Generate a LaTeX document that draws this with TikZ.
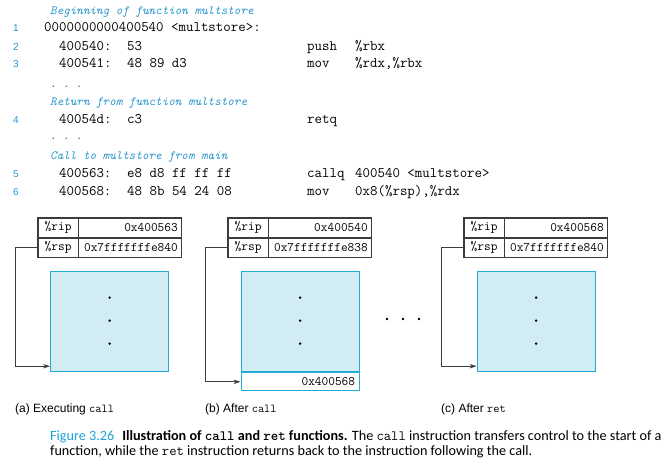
\documentclass[tikz,border=0pt]{standalone}
\usepackage{fontspec}
\setmainfont{Liberation Sans}
\setsansfont{Liberation Sans}
\newfontfamily\capfont{Carlito}
\usetikzlibrary{arrows.meta}
\definecolor{cmtblue}{RGB}{40,150,205}
\definecolor{boxfill}{RGB}{210,236,244}
\definecolor{boxline}{RGB}{35,170,215}
\definecolor{figblue}{RGB}{30,160,220}
\definecolor{linegray}{RGB}{60,60,60}
\tikzset{
  codetxt/.style={anchor=base west, inner sep=0pt, font=\fontsize{14.5}{16}\ttfamily},
  cmttxt/.style={anchor=base west, inner sep=0pt, text=cmtblue, font=\fontsize{12.5}{14}\ttfamily\itshape},
  dotstxt/.style={anchor=base west, inner sep=0pt, text=linegray, font=\fontsize{12.5}{14}\ttfamily},
  lnum/.style={anchor=base, inner sep=0pt, text=cmtblue, font=\fontsize{10}{12}\sffamily},
  regname/.style={draw=linegray, line width=0.7pt, minimum width=39.5pt, minimum height=19pt, inner sep=0pt, font=\fontsize{13}{14}\ttfamily},
  regval/.style={draw=linegray, line width=0.7pt, minimum width=102.5pt, text width=96pt, align=right, minimum height=19pt, inner xsep=3pt, inner ysep=0pt, font=\fontsize{13}{14}\ttfamily},
  regframe/.style={draw=linegray, line width=1.4pt},
  stackbox/.style={draw=boxline, fill=boxfill, line width=1.2pt, minimum width=118pt, minimum height=100pt, inner sep=0pt},
  retcell/.style={draw=boxline, fill=white, line width=1.2pt, minimum width=118pt, minimum height=18pt, text width=110pt, align=right, inner xsep=4pt, inner ysep=0pt, font=\fontsize{13}{14}\ttfamily},
  sdot/.style={circle, fill=black, inner sep=0pt, minimum size=2.6pt},
  edot/.style={circle, fill=black, inner sep=0pt, minimum size=2.8pt},
  ptr/.style={draw=linegray, line width=0.8pt, -{Stealth[length=7pt,width=4.5pt]}},
  plabel/.style={anchor=base west, inner sep=0pt, font=\fontsize{12}{14}\sffamily},
  captxt/.style={anchor=base west, inner sep=0pt, font=\fontsize{14.2}{16}\capfont},
}
\begin{document}
\begin{tikzpicture}[x=1pt,y=-1pt]
\useasboundingbox (0,0) rectangle (671,464);
% ---------- code listing ----------
\node[cmttxt] (c1) at (50,14) {Beginning of function multstore};
\node[lnum] (n1) at (16,31.5) {1};
\node[codetxt] (l1) at (44,31.5) {0000000000400540 <multstore>:};
\node[lnum] (n2) at (16,50.5) {2};
\node[codetxt] (l2a) at (59,50.5) {400540:};
\node[codetxt] (l2b) at (127,50.5) {53};
\node[codetxt] (l2c) at (307,50.5) {push};
\node[codetxt] (l2d) at (355,50.5) {\%rbx};
\node[lnum] (n3) at (16,67.5) {3};
\node[codetxt] (l3a) at (59,67.5) {400541:};
\node[codetxt] (l3b) at (127,67.5) {48 89 d3};
\node[codetxt] (l3c) at (307,67.5) {mov};
\node[codetxt] (l3d) at (355,67.5) {\%rdx,\%rbx};
\node[dotstxt] (d1) at (50,87) {.\ .\ .};
\node[cmttxt] (c2) at (50,105) {Return from function multstore};
\node[lnum] (n4) at (16,123.5) {4};
\node[codetxt] (l4a) at (59,123.5) {40054d:};
\node[codetxt] (l4b) at (127,123.5) {c3};
\node[codetxt] (l4c) at (307,123.5) {retq};
\node[dotstxt] (d2) at (50,139) {.\ .\ .};
\node[cmttxt] (c3) at (50,159) {Call to multstore from main};
\node[lnum] (n5) at (16,177.5) {5};
\node[codetxt] (l5a) at (59,177.5) {400563:};
\node[codetxt] (l5b) at (127,177.5) {e8 d8 ff ff ff};
\node[codetxt] (l5c) at (307,177.5) {callq};
\node[codetxt] (l5d) at (355,177.5) {400540 <multstore>};
\node[lnum] (n6) at (16,195.5) {6};
\node[codetxt] (l6a) at (59,195.5) {400568:};
\node[codetxt] (l6b) at (127,195.5) {48 8b 54 24 08};
\node[codetxt] (l6c) at (307,195.5) {mov};
\node[codetxt] (l6d) at (355,195.5) {0x8(\%rsp),\%rdx};
% ---------- panel (a) ----------
\node[regname, anchor=north west] (ripA) at (38,218) {\%rip};
\node[regval, anchor=north west] (ripvA) at (ripA.north east) {0x400563};
\node[regname, anchor=north] (rspA) at (ripA.south) {\%rsp};
\node[regval, anchor=north west] (rspvA) at (rspA.north east) {0x7fffffffe840};
\draw[regframe] (ripA.north west) rectangle (rspvA.south east);
\node[stackbox, anchor=north west] (boxA) at (50,271) {};
\node[sdot] (a1) at ([yshift=24pt]boxA.center) {};
\node[sdot] (a2) at ([yshift=1pt]boxA.center) {};
\node[sdot] (a3) at ([yshift=-22pt]boxA.center) {};
\draw[ptr] (rspA.west) -- ++(-23,0) |- ([yshift=6pt]boxA.south west);
\node[plabel] (labA) at (15,412) {(a) Executing \texttt{call}};
% ---------- panel (b) ----------
\node[regname, anchor=north west] (ripB) at (228,218) {\%rip};
\node[regval, anchor=north west] (ripvB) at (ripB.north east) {0x400540};
\node[regname, anchor=north] (rspB) at (ripB.south) {\%rsp};
\node[regval, anchor=north west] (rspvB) at (rspB.north east) {0x7fffffffe838};
\draw[regframe] (ripB.north west) rectangle (rspvB.south east);
\node[stackbox, anchor=north west] (boxB) at (240.5,271) {};
\node[retcell, anchor=north] (retB) at (boxB.south) {0x400568};
\node[sdot] (b1) at ([yshift=24pt]boxB.center) {};
\node[sdot] (b2) at ([yshift=1pt]boxB.center) {};
\node[sdot] (b3) at ([yshift=-22pt]boxB.center) {};
\draw[ptr] (rspB.west) -- ++(-23,0) |- (retB.west);
\node[plabel] (labB) at (205,412) {(b) After \texttt{call}};
% ---------- ellipsis ----------
\node[edot] (e1) at (387,319) {};
\node[edot] (e2) at (403,319) {};
\node[edot] (e3) at (419,319) {};
% ---------- panel (c) ----------
\node[regname, anchor=north west] (ripC) at (464,218) {\%rip};
\node[regval, anchor=north west] (ripvC) at (ripC.north east) {0x400568};
\node[regname, anchor=north] (rspC) at (ripC.south) {\%rsp};
\node[regval, anchor=north west] (rspvC) at (rspC.north east) {0x7fffffffe840};
\draw[regframe] (ripC.north west) rectangle (rspvC.south east);
\node[stackbox, anchor=north west] (boxC) at (476.5,271) {};
\node[sdot] (c1d) at ([yshift=24pt]boxC.center) {};
\node[sdot] (c2d) at ([yshift=1pt]boxC.center) {};
\node[sdot] (c3d) at ([yshift=-22pt]boxC.center) {};
\draw[ptr] (rspC.west) -- ++(-23,0) |- ([yshift=6pt]boxC.south west);
\node[plabel] (labC) at (441,412) {(c) After \texttt{ret}};
% ---------- caption ----------
\node[captxt] (cap1) at (50,440) {\textcolor{figblue}{Figure 3.26}\hspace{8pt}\textbf{Illustration of \texttt{call} and \texttt{ret} functions.} The \texttt{call} instruction transfers control to the start of a};
\node[captxt] (cap2) at (50,455.5) {function, while the \texttt{ret} instruction returns back to the instruction following the call.};
\end{tikzpicture}
\end{document}
